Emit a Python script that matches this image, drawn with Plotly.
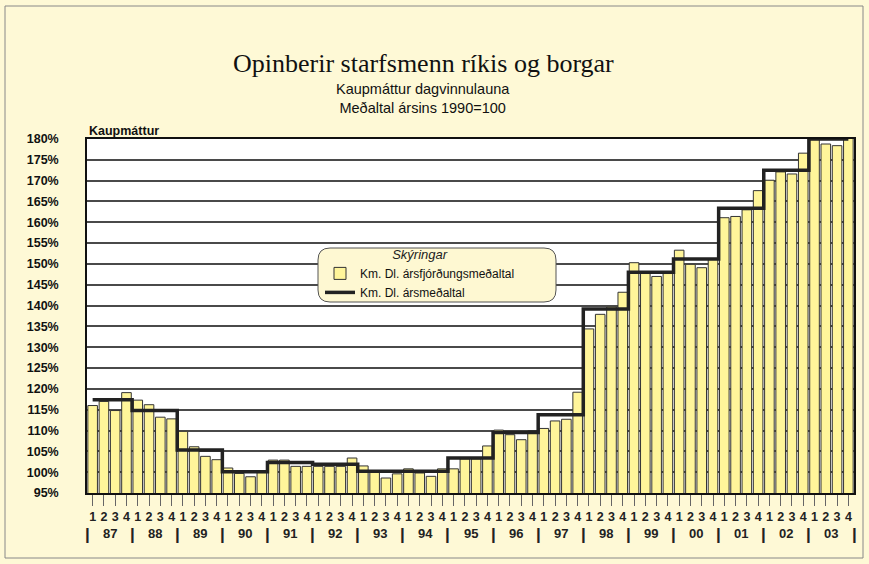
import plotly.graph_objects as go

# ---- data ----
years = ["87", "88", "89", "90", "91", "92", "93", "94", "95",
         "96", "97", "98", "99", "00", "01", "02", "03"]
quarter_labels = ["1", "2", "3", "4"]

quarterly = [
    116.0, 117.0, 114.8, 119.1,   # 87
    117.3, 116.2, 113.2, 112.8,   # 88
    109.8, 106.1, 103.8, 103.0,   # 89
    101.0, 99.7, 98.9, 99.9,      # 90
    102.9, 102.9, 101.4, 101.4,   # 91
    101.4, 101.4, 101.4, 103.4,   # 92
    101.5, 100.0, 98.6, 99.6,     # 93
    100.8, 99.8, 99.0, 100.8,     # 94
    100.8, 103.2, 103.2, 106.3,   # 95
    110.1, 109.0, 107.8, 110.0,   # 96
    110.5, 112.3, 112.7, 119.2,   # 97
    134.4, 137.9, 139.7, 143.2,   # 98
    150.3, 147.7, 147.0, 147.7,   # 99
    153.3, 149.9, 149.1, 151.1,   # 00
    161.1, 161.4, 163.0, 167.6,   # 01
    170.1, 172.1, 171.6, 176.6,   # 02
    181.8, 178.8, 178.4, 180.8,   # 03
]

annual = [117.4, 114.8, 105.3, 100.1, 102.3, 101.9, 100.2, 100.2, 103.4,
          109.5, 113.8, 139.2, 148.0, 151.2, 163.4, 172.5, 180.0]

y_ticks = list(range(95, 181, 5))

# ---- derived positions ----
n = len(quarterly)
xq = list(range(n))
qtext = [quarter_labels[i % 4] for i in range(n)]

step_x, step_y = [], []
for k, a in enumerate(annual):
    step_x += [max(4 * k - 0.5, 0), min(4 * k + 3.5, n - 1)]
    step_y += [a, a]

BG = "#FEF9D6"
FONT = "Liberation Sans, Arial, sans-serif"

fig = go.Figure()
fig.add_trace(go.Bar(
    x=xq, y=quarterly, name="Km. Dl. ársfjórðungsmeðaltal",
    marker=dict(color="#FFF59A", line=dict(color="#333333", width=1)),
    hoverinfo="y",
))
fig.add_trace(go.Scatter(
    x=step_x, y=step_y, mode="lines", name="Km. Dl. ársmeðaltal",
    line=dict(color="#222222", width=3.5),
))

# plot area geometry in pixels (for decorative placement)
L, R, T, B = 87, 854, 139, 493
W, H = R - L, B - T


def px(xp):
    return (xp - L) / W


def py(yp):
    return (B - yp) / H


annotations = []
# title & subtitles
annotations.append(dict(text="Opinberir starfsmenn ríkis og borgar", xref="paper", yref="paper",
                        x=px(423), y=py(63), showarrow=False, xanchor="center", yanchor="middle",
                        font=dict(family="Liberation Serif, Times New Roman, serif", size=26, color="#111")))
annotations.append(dict(text="Kaupmáttur dagvinnulauna<br>Meðaltal ársins 1990=100",
                        xref="paper", yref="paper",
                        x=px(423), y=py(99), showarrow=False, xanchor="center", yanchor="middle",
                        font=dict(family=FONT, size=14.5, color="#111")))
annotations.append(dict(text="<b>Kaupmáttur</b>", xref="paper", yref="paper",
                        x=px(87), y=py(131), showarrow=False, xanchor="left", yanchor="middle",
                        font=dict(family=FONT, size=12.5, color="#111")))
# year labels and separators
for k, yr in enumerate(years):
    annotations.append(dict(text="<b>" + yr + "</b>", x=4 * k + 1.5, xref="x", yref="paper",
                            y=py(533), showarrow=False, xanchor="center", yanchor="middle",
                            font=dict(family=FONT, size=13, color="#222")))
for k in range(len(years) + 1):
    annotations.append(dict(text="<b>|</b>", x=4 * k - 0.5, xref="x", yref="paper",
                            y=py(534), showarrow=False, xanchor="center", yanchor="middle",
                            font=dict(family=FONT, size=17, color="#222")))

# rounded legend box
x0, x1, y0, y1 = px(318), px(556), py(302), py(248)
rx, ry = 12 / W, 12 / H
path = (f"M {x0+rx},{y0} L {x1-rx},{y0} Q {x1},{y0} {x1},{y0+ry} "
        f"L {x1},{y1-ry} Q {x1},{y1} {x1-rx},{y1} L {x0+rx},{y1} Q {x0},{y1} {x0},{y1-ry} "
        f"L {x0},{y0+ry} Q {x0},{y0} {x0+rx},{y0} Z")
shapes = [
    dict(type="path", path=path, xref="paper", yref="paper",
         fillcolor="#FEF8D2", line=dict(color="#555", width=1), layer="above"),
    dict(type="rect", xref="paper", yref="paper", x0=px(5), x1=px(863), y0=py(558), y1=py(6),
         line=dict(color="#888", width=1), fillcolor="rgba(0,0,0,0)", layer="below"),
]

fig.update_layout(
    width=869, height=564,
    margin=dict(l=L, r=869 - R, t=T, b=564 - B),
    paper_bgcolor=BG, plot_bgcolor="white",
    bargap=0.15,
    font=dict(family=FONT, color="#111"),
    showlegend=True,
    legend=dict(
        x=px(320), y=py(242), xanchor="left", yanchor="top",
        bgcolor="rgba(0,0,0,0)", borderwidth=0,
        title=dict(text="<i>Skýringar</i>", side="top center",
                   font=dict(family=FONT, size=13, color="#222")),
        font=dict(family=FONT, size=12, color="#111"),
        tracegroupgap=0, itemwidth=30,
    ),
    annotations=annotations,
    shapes=shapes,
    xaxis=dict(
        range=[-0.5, n - 0.5], tickmode="array", tickvals=xq, ticktext=qtext,
        ticks="outside", ticklen=11, tickwidth=1.2, tickcolor="#666",
        tickfont=dict(family=FONT, size=12.5, color="#222", weight="bold"),
        showgrid=False, zeroline=False, showline=True, linecolor="#111",
        linewidth=1.5, mirror=True, fixedrange=True,
    ),
    yaxis=dict(
        range=[95, 180], tickmode="array", tickvals=y_ticks,
        ticktext=[f"{v}%" for v in y_ticks], ticks="",
        ticklabelstandoff=24,
        tickfont=dict(family=FONT, size=12.5, color="#111", weight="bold"),
        showgrid=True, gridcolor="#4a4a4a", gridwidth=1.5,
        zeroline=False, showline=True, linecolor="#111", linewidth=1.5,
        mirror=True, fixedrange=True,
    ),
)

fig.write_html(
    "out.html",
    config={"displayModeBar": False},
    post_script="document.body.style.margin='0';document.body.style.overflow='hidden';"
                "document.body.style.background='" + BG + "';",
)
